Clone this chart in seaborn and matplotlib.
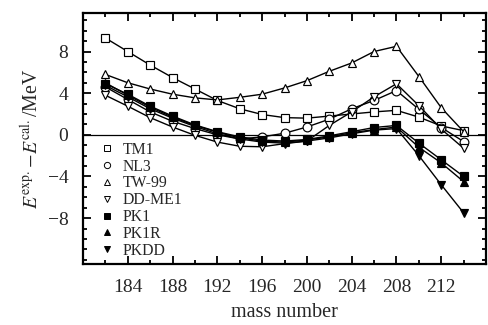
import matplotlib
matplotlib.use("Agg")
import matplotlib.pyplot as plt
import seaborn as sns
from matplotlib.lines import Line2D
from matplotlib.ticker import MultipleLocator

mass = [182, 184, 186, 188, 190, 192, 194, 196, 198, 200, 202, 204, 206, 208, 210, 212, 214]

tm1 = [9.3, 8.0, 6.7, 5.5, 4.4, 3.3, 2.5, 1.95, 1.65, 1.6, 1.8, 2.0, 2.2, 2.35, 1.7, 0.85, 0.4]
nl3 = [4.6, 3.4, 2.2, 1.3, 0.6, 0.0, -0.4, -0.2, 0.15, 0.75, 1.5, 2.5, 3.3, 4.25, 2.45, 0.7, -0.65]
tw99 = [5.8, 5.0, 4.4, 3.9, 3.55, 3.35, 3.6, 3.9, 4.5, 5.2, 6.1, 6.9, 8.0, 8.5, 5.6, 2.6, 0.3]
ddme1 = [3.8, 2.75, 1.65, 0.75, -0.05, -0.7, -1.1, -1.15, -0.85, -0.6, 0.9, 2.2, 3.65, 4.9, 2.8, 0.55, -1.3]
pk1 = [4.9, 3.9, 2.75, 1.8, 0.95, 0.3, -0.2, -0.5, -0.6, -0.45, -0.1, 0.3, 0.7, 0.9, -0.8, -2.4, -4.0]
pk1r = [5.0, 3.8, 2.65, 1.7, 0.9, 0.25, -0.3, -0.6, -0.7, -0.5, -0.2, 0.2, 0.5, 0.75, -1.2, -2.7, -4.5]
pkdd = [4.75, 3.65, 2.5, 1.6, 0.8, 0.1, -0.4, -0.7, -0.8, -0.6, -0.3, 0.1, 0.45, 0.6, -2.0, -4.8, -7.5]

series = [
    ("TM1", tm1, "s", "white"),
    ("NL3", nl3, "o", "white"),
    ("TW-99", tw99, "^", "white"),
    ("DD-ME1", ddme1, "v", "white"),
    ("PK1", pk1, "s", "black"),
    ("PK1R", pk1r, "^", "black"),
    ("PKDD", pkdd, "v", "black"),
]

sns.set_theme(style="ticks")
plt.rcParams["font.family"] = ["Liberation Serif", "DejaVu Serif"]
plt.rcParams["mathtext.fontset"] = "stix"

fig = plt.figure(figsize=(4.88, 3.25), dpi=100)
ax = fig.add_axes([0.170, 0.188, 0.826, 0.772])

ax.axhline(0, color="black", lw=0.9, zorder=1)

for name, vals, m, fc in series:
    sns.lineplot(x=mass, y=vals, ax=ax, color="black", lw=1.0,
                 marker=m, markersize=6.3, markerfacecolor=fc,
                 markeredgecolor="black", markeredgewidth=0.85, zorder=3)

handles = [Line2D([], [], ls="none", marker=m, markersize=4.5,
                  markerfacecolor=fc, markeredgecolor="black", markeredgewidth=0.7)
           for name, vals, m, fc in series]
labels = [s[0] for s in series]
ax.legend(handles, labels, loc="upper left", bbox_to_anchor=(0.017, 0.53),
          frameon=False, fontsize=11.3, handlelength=0.8, handletextpad=0.6,
          labelspacing=0.05, borderaxespad=0.3)

ax.set_xlim(180, 216)
ax.set_ylim(-12.4, 11.7)
ax.xaxis.set_minor_locator(MultipleLocator(2))
ax.yaxis.set_minor_locator(MultipleLocator(1))
ax.set_xticks(range(184, 213, 4))
ax.set_yticks([-8, -4, 0, 4, 8])
ax.set_yticklabels(["\u22128", "\u22124", "0", "4", "8"])

ax.tick_params(which="both", direction="in", top=True, right=True,
               labelsize=14, color="black", width=1.3)
ax.tick_params(which="major", length=6)
ax.tick_params(which="minor", length=3)
ax.tick_params(axis="x", which="major", pad=11)
ax.tick_params(axis="y", which="major", pad=10.5)
for sp in ax.spines.values():
    sp.set_linewidth(1.6)
    sp.set_color("black")

ax.set_xlabel("mass number", fontsize=14.5, labelpad=5)
ax.set_ylabel(r"$E^{\mathrm{exp.}}\!-\!E^{\mathrm{cal.}}$/MeV", fontsize=14.3, labelpad=3)

fig.savefig("out.png", dpi=100)
